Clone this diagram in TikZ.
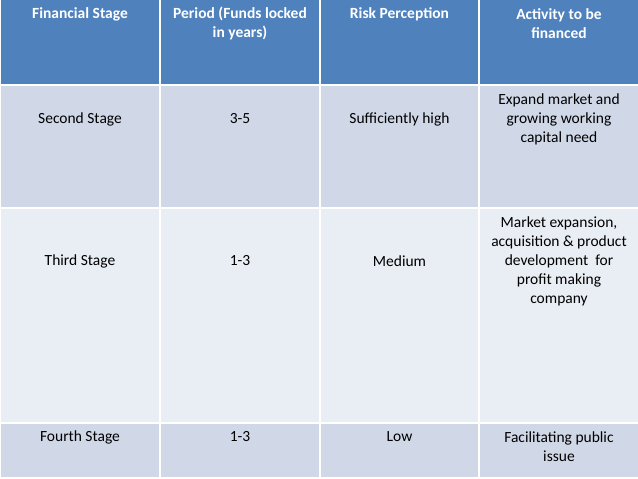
\documentclass[tikz,border=0pt]{standalone}
\usepackage{fontspec}
\setmainfont{Carlito}
\definecolor{hdrBlue}{HTML}{4F81BD}
\definecolor{rowDark}{HTML}{D0D8E8}
\definecolor{rowLight}{HTML}{E9EDF4}
\tikzset{
  cellText/.style={align=center, inner sep=0pt, anchor=center, yshift=-1pt, text=black, font=\fontsize{15.5}{19}\selectfont},
  hdrText/.style={cellText, text=white, font=\fontsize{15.5}{19}\selectfont\bfseries},
}

\begin{document}
\begin{tikzpicture}[x=1pt,y=-1pt]
\pgfmathsetmacro{\colA}{80}
\pgfmathsetmacro{\colB}{240}
\pgfmathsetmacro{\colC}{399.5}
\pgfmathsetmacro{\colD}{559}

% Draw background
\useasboundingbox (0,0) rectangle (638,479);
\fill[white] (0,0) rectangle (638,479);

% Draw cells
\foreach \xa/\xb in {1/159, 161/319, 321/478, 480/638}{
  \fill[hdrBlue] (\xa,0) rectangle (\xb,84);
  \fill[rowDark] (\xa,86) rectangle (\xb,207);
  \fill[rowLight] (\xa,209) rectangle (\xb,422);
  \fill[rowDark] (\xa,424) rectangle (\xb,477);
}

% Draw header
\node[hdrText] (hStage) at (\colA,13) {Financial Stage};
\node[hdrText] (hPeriod) at (\colB,22.5) {Period (Funds locked\\in years)};
\node[hdrText] (hRisk) at (\colC,13) {Risk Perception};
\node[hdrText] (hActivity) at (\colD,22.5) {Activity to be\\financed};

% Draw rows
\node[cellText] (stageTwo) at (\colA,118) {Second Stage};
\node[cellText] (periodTwo) at (\colB,118) {3-5};
\node[cellText] (riskTwo) at (\colC,118) {Sufficiently high};
\node[cellText] (activityTwo) at (\colD,118) {Expand market and\\growing working\\capital need};

\node[cellText] (stageThree) at (\colA,260) {Third Stage};
\node[cellText] (periodThree) at (\colB,260) {1-3};
\node[cellText] (riskThree) at (\colC,260) {Medium};
\node[cellText] (activityThree) at (\colD,260) {Market expansion,\\acquisition \& product\\development\ \ for\\profit making\\company};

\node[cellText] (stageFour) at (\colA,436) {Fourth Stage};
\node[cellText] (periodFour) at (\colB,436) {1-3};
\node[cellText] (riskFour) at (\colC,436) {Low};
\node[cellText] (activityFour) at (\colD,445.5) {Facilitating public\\issue};
\end{tikzpicture}
\end{document}
